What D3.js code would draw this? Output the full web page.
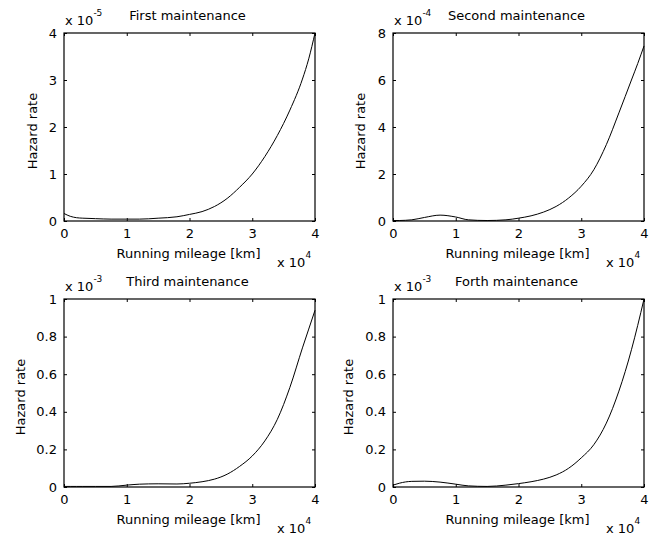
<!DOCTYPE html>
<html lang="en">
<head>
    <meta charset="UTF-8">
    <title>Hazard rate by maintenance</title>
    <script src="https://d3js.org/d3.v7.min.js"></script>
    <style>
        body {
            margin: 0;
            background-color: #fff;
        }
        svg text {
            font-family: "DejaVu Sans", sans-serif;
            font-size: 13px;
            fill: #000;
        }
        .tick text {
            font-size: 13px;
        }
    </style>
</head>
<body>
    <div id="chart"></div>

    <script>
        // running mileage, in units of 10^4 km
        const mileage = [0, 0.1, 0.2, 0.3, 0.5, 0.75, 1.0, 1.2, 1.5, 1.8, 2.0, 2.2, 2.4, 2.6, 2.8, 3.0, 3.2, 3.4, 3.6, 3.8, 3.9, 4.0];

        // hazard rates, each in the scale shown above its panel
        const firstRate  = [0.16, 0.10, 0.07, 0.06, 0.05, 0.04, 0.04, 0.04, 0.06, 0.09, 0.14, 0.20, 0.31, 0.48, 0.72, 1.00, 1.37, 1.82, 2.36, 3.02, 3.45, 4.00];
        const secondRate = [0.02, 0.02, 0.03, 0.05, 0.15, 0.25, 0.17, 0.05, 0.02, 0.05, 0.12, 0.22, 0.38, 0.62, 0.98, 1.48, 2.18, 3.25, 4.60, 6.00, 6.70, 7.45];
        const thirdRate  = [0.003, 0.003, 0.003, 0.003, 0.003, 0.003, 0.010, 0.015, 0.017, 0.016, 0.020, 0.028, 0.042, 0.068, 0.110, 0.165, 0.245, 0.360, 0.530, 0.740, 0.840, 0.940];
        const forthRate  = [0.010, 0.020, 0.027, 0.030, 0.031, 0.026, 0.015, 0.006, 0.003, 0.010, 0.018, 0.028, 0.042, 0.064, 0.100, 0.155, 0.225, 0.340, 0.510, 0.730, 0.860, 1.000];

        const titles = ["First maintenance", "Second maintenance", "Third maintenance", "Forth maintenance"];
        const exponents = ["-5", "-4", "-3", "-3"];
        const yMax = [4, 8, 1, 1];
        const yTicks = [[0, 1, 2, 3, 4], [0, 2, 4, 6, 8], [0, 0.2, 0.4, 0.6, 0.8, 1], [0, 0.2, 0.4, 0.6, 0.8, 1]];
        const xTicks = [0, 1, 2, 3, 4];
        const rates = [firstRate, secondRate, thirdRate, forthRate];

        const w = 658, h = 536;
        const boxW = 251, boxH = 188;
        const lefts = [64, 393, 64, 393];
        const tops = [33, 33, 299, 299];
        const yLabelX = [-31, -32, -43, -44];

        const svg = d3.select("#chart")
            .append("svg")
            .attr("width", w)
            .attr("height", h);

        rates.forEach((rate, i) => {
            const L = lefts[i], T = tops[i];
            const g = svg.append("g").attr("transform", `translate(${L},${T})`);

            const x = d3.scaleLinear().domain([0, 4]).range([0, boxW]);
            const y = d3.scaleLinear().domain([0, yMax[i]]).range([boxH, 0]);

            // ticks point inward on all four sides, labels only left and bottom
            g.append("g")
                .attr("transform", `translate(0,${boxH})`)
                .call(d3.axisBottom(x).tickValues(xTicks).tickSize(-3).tickSizeOuter(0).tickPadding(8).tickFormat(d3.format("d")));
            g.append("g")
                .call(d3.axisTop(x).tickValues(xTicks).tickSize(-3).tickSizeOuter(0).tickFormat(""));
            g.append("g")
                .call(d3.axisLeft(y).tickValues(yTicks[i]).tickSize(-3).tickSizeOuter(0).tickPadding(7).tickFormat(d => d3.format("~g")(d)));
            g.append("g")
                .attr("transform", `translate(${boxW},0)`)
                .call(d3.axisRight(y).tickValues(yTicks[i]).tickSize(-3).tickSizeOuter(0).tickFormat(""));

            g.selectAll(".domain").remove();
            g.selectAll(".tick line").attr("stroke", "#000");

            g.append("rect")
                .attr("width", boxW)
                .attr("height", boxH)
                .attr("fill", "none")
                .attr("stroke", "#000")
                .attr("stroke-width", 1.2);

            const line = d3.line()
                .x((d, j) => x(mileage[j]))
                .y(d => y(d))
                .curve(d3.curveMonotoneX);

            g.append("path")
                .datum(rate)
                .attr("d", line)
                .attr("fill", "none")
                .attr("stroke", "#000")
                .attr("stroke-width", 1);

            // title
            g.append("text")
                .attr("x", boxW / 2 - 2)
                .attr("y", -13)
                .attr("text-anchor", "middle")
                .text(titles[i]);

            // y exponent
            const ey = g.append("text").attr("x", 1).attr("y", -8);
            ey.append("tspan").text("x 10");
            ey.append("tspan").attr("dy", -9).style("font-size", "9px").text(exponents[i]);

            // x label
            g.append("text")
                .attr("x", boxW / 2 - 1)
                .attr("y", boxH + 37)
                .attr("text-anchor", "middle")
                .text("Running mileage [km]");

            // x exponent
            const ex = g.append("text").attr("x", boxW - 38).attr("y", boxH + 46);
            ex.append("tspan").text("x 10");
            ex.append("tspan").attr("dy", -9).style("font-size", "9px").text("4");

            // y label
            g.append("text")
                .attr("transform", `translate(${yLabelX[i] + 4},${boxH / 2 + 4}) rotate(-90)`)
                .attr("text-anchor", "middle")
                .text("Hazard rate");
        });
    </script>
</body>
</html>
